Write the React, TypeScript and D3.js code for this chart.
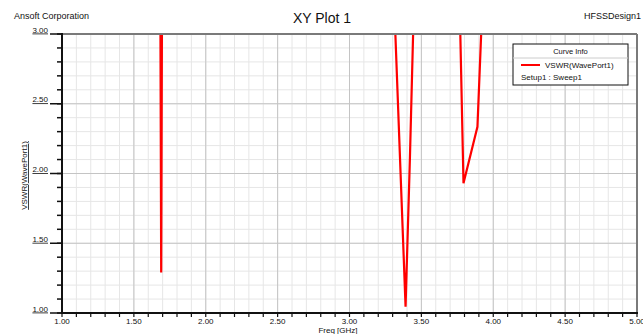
import React from "react";
import * as d3 from "d3";

const freqGHz: number[] = [1.0, 1.2, 1.5, 1.59, 1.69, 1.79, 2.2, 2.8, 3.29, 3.39, 3.42, 3.49, 3.6, 3.69, 3.793, 3.89, 3.99, 4.5, 5.0];
const vswr: number[] = [9.5, 8.0, 6.0, 35, 1.29, 35, 6.0, 5.0, 3.8, 1.045, 2.1, 4.9, 6.5, 6.9, 1.93, 2.335, 4.9, 8.0, 9.0];
const xTicks: number[] = [1.0, 1.5, 2.0, 2.5, 3.0, 3.5, 4.0, 4.5, 5.0];
const yTicks: number[] = [1.0, 1.5, 2.0, 2.5, 3.0];
const legendTitle = "Curve Info";
const seriesName = "VSWR(WavePort1)";
const seriesSub = "Setup1 : Sweep1";

const W = 643;
const H = 334;
const L = 62, R = 637, T = 34, B = 313;

export default function App() {
  const x = d3.scaleLinear().domain([1, 5]).range([L, R]);
  const y = d3.scaleLinear().domain([1, 3]).range([B, T]);
  const xMinor = d3.range(1, 5.0001, 0.1);
  const yMinor = d3.range(1, 3.0001, 0.1);
  const pts: [number, number][] = freqGHz.map((f, i) => [f, vswr[i]]);
  const line = d3.line<[number, number]>().x(d => x(d[0])).y(d => y(d[1]));
  const font = "Liberation Sans, Arial, sans-serif";
  return (
    <svg width={W} height={H} style={{ position: "absolute", left: 0, top: 0, background: "#fff" }} fontFamily={font}>
      <defs>
        <clipPath id="plotclip"><rect x={L} y={T} width={R - L} height={B - T} /></clipPath>
      </defs>
      <rect x={0} y={0} width={W} height={H} fill="#fff" />
      {/* minor grid */}
      {xMinor.map((v, i) => (
        <line key={"xm" + i} x1={x(v)} x2={x(v)} y1={T} y2={B} stroke="#e6e6e6" strokeWidth={1} />
      ))}
      {yMinor.map((v, i) => (
        <line key={"ym" + i} x1={L} x2={R} y1={y(v)} y2={y(v)} stroke="#e6e6e6" strokeWidth={1} />
      ))}
      {xTicks.map((v, i) => (
        <line key={"xg" + i} x1={x(v)} x2={x(v)} y1={T} y2={B} stroke="#c4c4c4" strokeWidth={1} />
      ))}
      {yTicks.map((v, i) => (
        <line key={"yg" + i} x1={L} x2={R} y1={y(v)} y2={y(v)} stroke="#c4c4c4" strokeWidth={1} />
      ))}
      {/* curve */}
      <path d={line(pts) || ""} fill="none" stroke="#ff0000" strokeWidth={2.2} clipPath="url(#plotclip)" strokeLinejoin="miter" />
      {/* frame */}
      <line x1={L} x2={R} y1={T} y2={T} stroke="#7a7a7a" strokeWidth={2} />
      <line x1={R} x2={R} y1={T} y2={B} stroke="#7a7a7a" strokeWidth={2} />
      <line x1={L} x2={L} y1={T - 1} y2={B + 1} stroke="#111" strokeWidth={2} />
      <line x1={L - 1} x2={R + 1} y1={B} y2={B} stroke="#111" strokeWidth={2} />
      {/* y ticks */}
      {yMinor.map((v, i) => (
        <line key={"ytm" + i} x1={L - 5} x2={L} y1={y(v)} y2={y(v)} stroke="#111" strokeWidth={1.5} />
      ))}
      {yTicks.map((v, i) => (
        <g key={"yt" + i}>
          <line x1={L - 12} x2={L} y1={y(v)} y2={y(v)} stroke="#111" strokeWidth={1.5} />
          <text x={48} y={y(v) - 1.5} textAnchor="end" fontSize={8} fill="#111" textDecoration="underline">{v.toFixed(2)}</text>
        </g>
      ))}
      {/* x ticks */}
      {xMinor.map((v, i) => (
        <line key={"xtm" + i} x1={x(v)} x2={x(v)} y1={B} y2={B + 4} stroke="#111" strokeWidth={1.2} />
      ))}
      {xTicks.map((v, i) => (
        <text key={"xt" + i} x={x(v)} y={B + 11} textAnchor="middle" fontSize={8} fill="#111">{v.toFixed(2)}</text>
      ))}
      {/* axis titles */}
      <text x={338} y={333} textAnchor="middle" fontSize={8} fill="#111" textDecoration="underline">Freq [GHz]</text>
      <text transform={`translate(27, ${(T + B) / 2 + 2}) rotate(-90)`} textAnchor="middle" fontSize={8} fill="#111" textDecoration="underline">VSWR(WavePort1)</text>
      {/* header */}
      <text x={14} y={19} fontSize={9} fill="#111">Ansoft Corporation</text>
      <text x={322} y={23} textAnchor="middle" fontSize={14} fill="#111">XY Plot 1</text>
      <text x={584} y={19} fontSize={9} fill="#111">HFSSDesign1</text>
      {/* legend */}
      <rect x={513} y={44} width={115} height={41} fill="#fff" stroke="#111" strokeWidth={1} />
      <text x={570.5} y={54} textAnchor="middle" fontSize={7.5} fill="#111">{legendTitle}</text>
      <line x1={513} x2={628} y1={58} y2={58} stroke="#ccc" strokeWidth={1} />
      <line x1={521} x2={540} y1={65} y2={65} stroke="#ff0000" strokeWidth={2} />
      <text x={545} y={68} fontSize={8} fill="#111">{seriesName}</text>
      <text x={521} y={80} fontSize={8} fill="#111">{seriesSub}</text>
    </svg>
  );
}
